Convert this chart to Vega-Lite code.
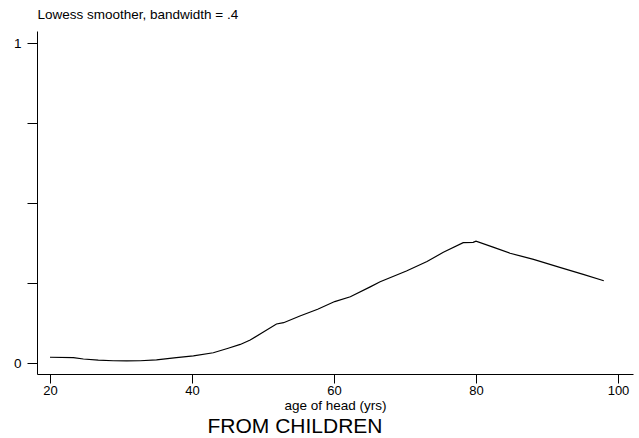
{
  "$schema": "https://vega.github.io/schema/vega-lite/v6.json",
  "autosize": "none",
  "width": 596,
  "height": 343,
  "padding": {"left": 37, "top": 31, "right": 6, "bottom": 64},
  "background": "white",
  "config": {
    "view": {"stroke": null},
    "font": "Liberation Sans"
  },
  "title": {
    "text": "FROM CHILDREN",
    "orient": "bottom",
    "anchor": "middle",
    "frame": "group",
    "fontSize": 21,
    "fontWeight": "normal",
    "font": "Liberation Sans",
    "color": "black",
    "offset": 4,
    "dx": -40
  },
  "data": {
    "values": [
      {"age": 20.0, "v": 0.018},
      {"age": 23.3, "v": 0.017},
      {"age": 24.7, "v": 0.0125},
      {"age": 26.8, "v": 0.009},
      {"age": 28.9, "v": 0.007},
      {"age": 30.8, "v": 0.0065},
      {"age": 32.7, "v": 0.007},
      {"age": 35.0, "v": 0.010},
      {"age": 37.8, "v": 0.017},
      {"age": 40.2, "v": 0.022},
      {"age": 43.0, "v": 0.032},
      {"age": 45.1, "v": 0.046},
      {"age": 46.8, "v": 0.058},
      {"age": 48.2, "v": 0.072},
      {"age": 50.0, "v": 0.096},
      {"age": 51.9, "v": 0.122},
      {"age": 52.9, "v": 0.126},
      {"age": 55.2, "v": 0.147},
      {"age": 57.7, "v": 0.168},
      {"age": 60.1, "v": 0.192},
      {"age": 62.3, "v": 0.207},
      {"age": 65.1, "v": 0.238},
      {"age": 66.5, "v": 0.254},
      {"age": 70.2, "v": 0.2875},
      {"age": 73.1, "v": 0.317},
      {"age": 75.4, "v": 0.346},
      {"age": 78.2, "v": 0.376},
      {"age": 79.6, "v": 0.377},
      {"age": 80.0, "v": 0.381},
      {"age": 82.4, "v": 0.362},
      {"age": 84.8, "v": 0.343},
      {"age": 88.1, "v": 0.324},
      {"age": 91.8, "v": 0.299},
      {"age": 95.1, "v": 0.277},
      {"age": 98.0, "v": 0.257}
    ]
  },
  "mark": {"type": "line", "color": "black", "strokeWidth": 1.2, "clip": false},
  "encoding": {
    "x": {
      "field": "age",
      "type": "quantitative",
      "scale": {"domain": [18.169, 102.113], "nice": false, "zero": false},
      "axis": {
        "values": [20, 40, 60, 80, 100],
        "grid": false,
        "domainColor": "black",
        "domainWidth": 1,
        "tickColor": "black",
        "tickSize": 9,
        "labelPadding": 1,
        "labelFontSize": 13,
        "labelColor": "black",
        "labelFont": "Liberation Sans",
        "title": "age of head (yrs)",
        "titleFont": "Liberation Sans",
        "titleFontSize": 13.5,
        "titleFontWeight": "normal",
        "titleColor": "black",
        "titleBaseline": "alphabetic",
        "titleY": 35
      }
    },
    "y": {
      "field": "v",
      "type": "quantitative",
      "scale": {"domain": [-0.034375, 1.0375], "nice": false, "zero": false},
      "axis": {
        "values": [0, 0.25, 0.5, 0.75, 1],
        "labelExpr": "datum.value == 0 ? '0' : datum.value == 1 ? '1' : ''",
        "grid": false,
        "domainColor": "black",
        "domainWidth": 1,
        "tickColor": "black",
        "tickSize": 10,
        "labelPadding": 6,
        "labelFontSize": 13.5,
        "labelColor": "black",
        "labelFont": "Liberation Sans",
        "title": "Lowess smoother, bandwidth = .4",
        "titleAngle": 0,
        "titleAlign": "left",
        "titleBaseline": "alphabetic",
        "titleX": 0,
        "titleY": -12.5,
        "titleFont": "Liberation Sans",
        "titleFontSize": 13.5,
        "titleFontWeight": "normal",
        "titleColor": "black"
      }
    }
  }
}
